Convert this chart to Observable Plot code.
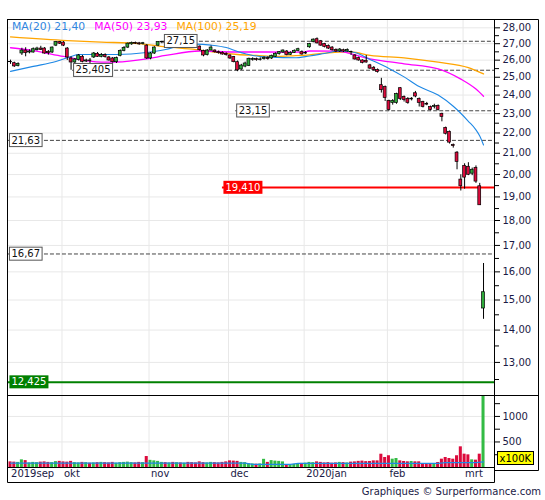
<!DOCTYPE html>
<html><head><meta charset="utf-8">
<script src="https://cdn.jsdelivr.net/npm/d3@7"></script>
<script src="https://cdn.jsdelivr.net/npm/@observablehq/plot@0.6"></script>
<style>
body{margin:0;background:#fff;}
#wrap{position:relative;width:545px;height:500px;font-family:"DejaVu Sans",Verdana,sans-serif;overflow:hidden;}
#wrap svg{display:block}
#legend{position:absolute;left:12px;top:20px;font-size:10.8px;white-space:nowrap;}
#legend span{margin-right:9px}
#cap{height:17px;width:541px;text-align:right;font-size:10px;color:#1a1a46;line-height:17px;}
</style></head><body><div id="wrap"></div><script>
// ---- data (trading days 2019-09-11 .. 2020-03-09, index = trading day) ----
const open  = [25.9,25.82,25.65,26.4,26.58,26.46,26.46,26.6,26.7,26.7,26.5,26.46,26.88,27.1,27.07,26.7,26.1,25.86,26.0,26.2,25.92,25.98,26.16,26.38,26.2,26.3,26.16,26.1,25.88,26.26,26.56,26.76,26.96,27.05,27.02,26.98,26.88,26.1,26.4,26.88,27.08,27.12,27.05,27.1,27.02,27.06,27.0,27.08,27.02,26.9,26.82,26.55,26.3,26.58,26.58,26.48,26.44,26.38,26.28,26.18,25.88,25.45,25.62,25.66,26.02,26.06,26.0,26.06,26.12,26.1,26.2,26.36,26.46,26.52,26.32,26.44,26.56,26.48,26.4,26.78,27.1,27.28,27.15,26.98,26.86,26.76,26.62,26.52,26.6,26.52,26.5,26.28,26.12,25.98,25.96,25.69,25.55,25.42,24.55,24.44,23.68,23.57,23.57,24.38,23.9,23.79,23.76,24.1,23.79,23.62,23.52,23.35,23.35,23.41,22.99,22.26,22.06,21.4,21.03,19.77,20.4,20.36,20.04,20.31,19.47,14.71];
const high  = [26.0,25.88,25.84,26.72,26.75,26.62,26.74,26.78,26.84,26.76,26.58,26.8,27.14,27.14,27.13,26.76,26.2,26.1,26.34,26.28,26.06,26.1,26.46,26.46,26.4,26.38,26.22,26.16,26.18,26.62,26.82,27.05,27.1,27.1,27.08,27.08,26.94,26.46,26.82,27.13,27.15,27.15,27.14,27.14,27.12,27.1,27.12,27.12,27.06,26.94,26.86,26.6,26.64,26.86,26.62,26.55,26.5,26.44,26.32,26.22,25.95,25.75,25.88,26.12,26.14,26.12,26.14,26.2,26.2,26.3,26.44,26.52,26.62,26.58,26.5,26.62,26.72,26.56,26.52,27.02,27.3,27.36,27.2,27.02,26.92,26.82,26.68,26.7,26.66,26.68,26.54,26.32,26.18,26.02,26.28,25.75,25.62,25.48,24.94,24.5,23.72,23.75,24.1,24.42,23.95,23.86,23.86,24.2,23.84,23.66,23.6,23.4,23.5,23.46,23.02,22.3,22.1,21.45,21.08,19.99,20.5,20.55,20.3,20.4,19.6,16.31];
const low   = [25.75,25.57,25.6,26.28,26.2,26.38,26.42,26.55,26.58,26.36,26.3,26.4,26.82,26.95,26.82,25.98,25.405,25.8,25.95,25.84,25.86,25.8,26.1,26.16,26.14,26.12,25.94,25.82,25.8,26.2,26.5,26.7,26.9,26.95,26.9,26.92,26.04,26.02,26.34,26.82,27.0,27.0,26.98,26.96,26.96,26.94,26.95,26.96,26.86,26.78,26.55,26.2,26.25,26.55,26.42,26.36,26.3,26.24,26.04,25.84,25.32,25.4,25.55,25.62,25.94,25.94,25.95,26.0,26.0,26.04,26.16,26.3,26.4,26.26,26.28,26.4,26.5,26.3,26.34,26.72,27.05,26.98,26.84,26.74,26.64,26.54,26.46,26.46,26.46,26.48,26.28,26.0,25.94,25.78,25.82,25.45,25.36,25.24,24.11,23.65,23.14,23.45,23.5,23.7,23.62,23.5,23.68,23.85,23.35,23.3,23.42,23.15,23.25,23.14,22.57,21.9,21.45,21.25,20.22,19.26,19.34,19.95,19.95,19.6,18.64,14.35];
const close = [25.88,25.63,25.78,26.58,26.42,26.52,26.66,26.7,26.62,26.4,26.42,26.76,27.1,27.0,26.88,26.16,25.86,26.04,26.28,25.9,25.98,25.95,26.4,26.2,26.3,26.18,25.98,25.88,26.12,26.56,26.74,27.0,27.05,27.0,26.96,27.03,26.1,26.4,26.76,27.1,27.12,27.05,27.1,27.02,27.06,27.0,27.08,27.02,26.9,26.84,26.6,26.28,26.58,26.76,26.48,26.42,26.34,26.3,26.1,25.88,25.4,25.68,25.8,26.08,26.06,26.0,26.04,26.14,26.06,26.26,26.38,26.48,26.58,26.3,26.44,26.56,26.66,26.34,26.44,26.98,27.25,27.02,26.88,26.8,26.7,26.6,26.52,26.64,26.52,26.62,26.48,26.04,25.98,25.84,25.86,25.5,25.42,25.3,24.27,23.84,23.19,23.68,24.06,23.79,23.73,23.57,23.8,23.92,23.57,23.35,23.48,23.19,23.4,23.19,22.83,21.96,21.52,21.35,20.59,19.47,19.86,19.99,20.22,19.68,18.64,15.27];
const volume = [110,105,100,150,135,90,100,95,105,110,100,95,115,120,
  110,105,120,95,90,100,95,85,90,95,100,95,90,100,85,95,100,105,95,90,100,95,215,
  140,130,120,100,95,90,100,95,90,85,100,95,90,110,95,90,100,95,90,100,110,
  130,125,120,100,95,75,70,65,70,160,100,135,125,120,110,55,45,60,75,80,
  85,100,95,110,100,90,95,85,90,100,95,90,105,110,120,125,115,118,130,130,260,196,
  230,163,176,130,118,111,118,111,111,78,65,78,78,98,163,196,176,163,230,405,261,248,150,144,261,1500];

const ma20Day   = [0,6,12,16,18,28,36,41,45,49,53,57,60,64,69,75,79,83,87,91,95,100,104,108,113,117,121,123,124,125];
const ma20Value = [25.34,25.63,25.92,26.22,26.34,26.34,26.46,26.64,26.88,26.97,26.91,26.76,26.52,26.28,26.18,26.14,26.25,26.4,26.55,26.46,26.04,25.51,25.02,24.47,24.0,23.39,22.6,22.16,21.85,21.40];
const ma50Day   = [0,6,14,24,28,36,41,50,59,68,77,79,86,95,104,113,119,123,125];
const ma50Value = [26.75,26.58,26.22,25.88,25.89,26.08,26.28,26.55,26.49,26.49,26.48,26.55,26.54,26.08,25.78,25.48,24.89,24.33,23.93];
const ma100Day  = [0,15,24,34,41,49,55,60,65,70,74,79,83,87,90,95,104,113,121,125];
const ma100Value= [27.42,27.19,27.1,27.0,26.8,26.64,26.45,26.34,26.28,26.22,26.26,26.32,26.42,26.49,26.49,26.28,26.14,25.88,25.56,25.19];
const volMaDay  = [0,62,64,74,76,113,115,123,125];
const volMaValue= [85,85,60,60,80,80,95,95,110];

const monthStart = [0,14,37,58,78,100,120];
const monthLabel = ["2019sep","okt","nov","dec","2020jan","feb","mrt"];

const levelValue = [27.15,25.405,23.15,21.63,16.67];
const levelStart = [40.4,16.4,59.5,-0.55,-0.55];
const levelText  = ["27,15","25,405","23,15","21,63","16,67"];
const redLevel = 19.41, redStart = 56, redText = "19,410";
const greenLevel = 12.425, greenStart = -0.55, greenText = "12,425";
const unitText = "x100K";

const priceTicks = d3.range(13,29);
const priceMinor = d3.range(12.5,28.5,1);
const volTicks = [250,500,750,1000,1250];

// ---- build ----
const G="#2eaa3a", R="#dc0a3c", INK="#1a1a46";
const xDom=[-0.8,127.9];
const fmt = v => v.toFixed(2).replace(".",",");
const candles = close.map((c,i)=>({i,o:open[i],h:high[i],l:low[i],c,v:volume[i]}));
const up = d => d.c >= d.o;
const pts = (a,b)=>a.map((d,k)=>({d,v:b[k]}));
const levels = levelValue.map((v,k)=>({v,at:levelStart[k],t:levelText[k]}));
const months = monthStart.map((m,k)=>({m,t:monthLabel[k]}));
const grids = monthStart.slice(1);
const baseStyle = {fontFamily:"DejaVu Sans, Verdana, sans-serif",fontSize:"10px",background:"#fff",overflow:"visible"};

const wrap = document.getElementById("wrap");

const price = Plot.plot({
  width:545,height:395,marginLeft:7,marginRight:51,marginTop:19,marginBottom:0,
  style:baseStyle,
  x:{domain:xDom,axis:null},
  y:{type:"log",domain:[12.05,28.54],axis:null},
  marks:[
    Plot.ruleY(priceTicks,{stroke:"#e8e8e8"}),
    Plot.ruleX(grids,{x:d=>d-0.4,stroke:"#e8e8e8"}),
    Plot.ruleY(levels,{y:"v",x1:"at",x2:xDom[1],stroke:"#444",strokeDasharray:"4,2"}),
    Plot.ruleY([redLevel],{x1:redStart,x2:xDom[1],stroke:"#ff0000",strokeWidth:2}),
    Plot.ruleY([greenLevel],{x1:greenStart,x2:xDom[1],stroke:"#008000",strokeWidth:2}),
    Plot.line(pts(ma100Day,ma100Value),{x:"d",y:"v",stroke:"#ffa500",strokeWidth:1.3,curve:"monotone-x"}),
    Plot.line(pts(ma50Day,ma50Value),{x:"d",y:"v",stroke:"#ff00ff",strokeWidth:1.3,curve:"monotone-x"}),
    Plot.line(pts(ma20Day,ma20Value),{x:"d",y:"v",stroke:"#1e88e5",strokeWidth:1.1,curve:"monotone-x"}),
    Plot.ruleX(candles,{x:"i",y1:"l",y2:"h",stroke:"#000",strokeWidth:1}),
    Plot.rect(candles,{x1:d=>d.i-0.38,x2:d=>d.i+0.38,y1:"o",y2:"c",fill:d=>up(d)?G:R,stroke:"#000",strokeWidth:0.7}),
    Plot.frame({stroke:"#000"}),
    Plot.axisY(priceMinor,{anchor:"right",tickSize:4,tickFormat:()=>"",stroke:"#000",label:null}),
    Plot.axisY(priceTicks,{anchor:"right",tickSize:5,tickPadding:3,tickFormat:fmt,fill:INK,stroke:"#000",fontSize:10,label:null}),
    Plot.text(levels,{x:"at",y:"v",text:"t",textAnchor:"start",dx:3,fill:"#111",fontSize:10}),
    Plot.text([redLevel],{x:redStart,y:d=>d,text:()=>redText,textAnchor:"start",dx:3,fill:"#fff",fontSize:10}),
    Plot.text([greenLevel],{x:greenStart,y:d=>d,text:()=>greenText,textAnchor:"start",dx:3,fill:"#fff",fontSize:10})
  ]
});
wrap.appendChild(price);

const vol = Plot.plot({
  width:545,height:88,marginLeft:7,marginRight:51,marginTop:0,marginBottom:16,
  style:baseStyle,
  x:{domain:xDom,axis:null},
  y:{domain:[0,1410],axis:null},
  marks:[
    Plot.ruleY([500,1000],{stroke:"#e8e8e8"}),
    Plot.ruleX(grids,{x:d=>d-0.4,stroke:"#e8e8e8"}),
    Plot.rect(candles,{x1:d=>d.i-0.4,x2:d=>d.i+0.4,y1:0,y2:"v",fill:d=>up(d)?"#33bb44":R,clip:true}),
    Plot.line(pts(volMaDay,volMaValue),{x:"d",y:"v",stroke:"#1e88e5",strokeWidth:1.3}),
    Plot.frame({stroke:"#000"}),
    Plot.axisY(volTicks,{anchor:"right",tickSize:5,tickPadding:3,tickFormat:d=>d%500===0?String(d):"",fill:INK,stroke:"#000",fontSize:10,label:null}),
    Plot.text(months,{x:d=>d.m-0.4,text:"t",frameAnchor:"bottom",textAnchor:"start",lineAnchor:"top",dx:2,dy:2,fill:INK,fontSize:10}),
    Plot.text([unitText],{frameAnchor:"bottom-right",text:d=>d,textAnchor:"start",dx:5,dy:-6,fill:"#000",fontSize:10})
  ]
});
wrap.appendChild(vol);

const cap = document.createElement("div");
cap.id="cap"; cap.textContent="Graphiques © Surperformance.com";
wrap.appendChild(cap);

const leg = document.createElement("div");
leg.id="legend";
[["MA(20)",ma20Value,"#2f86e0"],["MA(50)",ma50Value,"#ff00ff"],["MA(100)",ma100Value,"#ffa500"]].forEach(([n,a,c])=>{
  const s=document.createElement("span"); s.style.color=c; s.textContent=n+" "+fmt(a[a.length-1]); leg.appendChild(s);
});
wrap.appendChild(leg);

// background boxes behind the level / unit labels
function boxes(svg,texts,fill,stroke){
  svg.querySelectorAll("text").forEach(t=>{
    if(!texts.includes(t.textContent.trim())) return;
    const b=t.getBBox();
    const r=document.createElementNS("http://www.w3.org/2000/svg","rect");
    r.setAttribute("x",b.x-2);r.setAttribute("y",b.y-1);
    r.setAttribute("width",b.width+4);r.setAttribute("height",b.height+2);
    r.setAttribute("fill",fill);
    if(stroke){r.setAttribute("stroke",stroke);r.setAttribute("stroke-width",1);}
    const tr=t.getAttribute("transform"); if(tr) r.setAttribute("transform",tr);
    t.parentNode.insertBefore(r,t);
  });
}
boxes(price,levelText,"#fff","#555");
boxes(price,[redText],"#ff0000",null);
boxes(price,[greenText],"#008000",null);
boxes(vol,[unitText],"#ffff00","#000");

// outer chart border (layout lines)
const ov = d3.select(wrap).append("svg").attr("width",545).attr("height",500)
  .style("position","absolute").style("left","0").style("top","0").style("pointer-events","none");
const L=7.5,Rx=494.5,OR=538.5,T=19.5,D=395.5,VB=467.5,B=482.5,OB=470.5;
[[L,T,OR,T],[OR,T,OR,OB],[Rx,OB,OR,OB],[Rx,D,OR,D],[L,VB,L,B],[L,B,Rx,B],[Rx,VB,Rx,B]].forEach(([x1,y1,x2,y2])=>
  ov.append("line").attr("x1",x1).attr("y1",y1).attr("x2",x2).attr("y2",y2).attr("stroke","#000"));
</script></body></html>
